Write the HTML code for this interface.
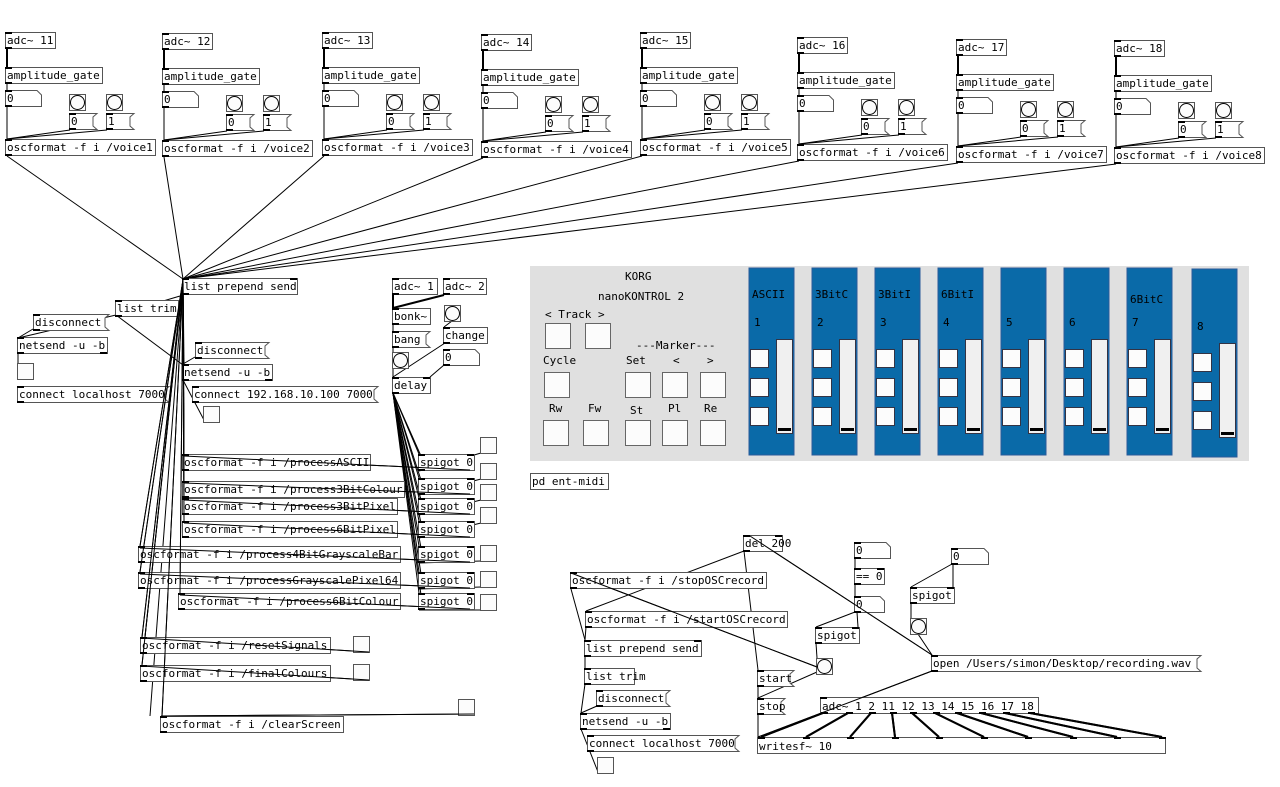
<!DOCTYPE html>
<html><head><meta charset="utf-8"><style>
body{margin:0;background:#fff;width:1280px;height:787px;overflow:hidden}
svg{position:absolute;left:0;top:0}
text{font-family:"DejaVu Sans Mono","Liberation Mono",monospace;font-size:11px;fill:#000}
</style></head><body>
<svg id="s" width="1280" height="787" xmlns="http://www.w3.org/2000/svg"></svg>
<script>
const S=document.getElementById('s');let out='';
function R(x,y,w,h,f,st){out+=`<rect x="${x}" y="${y}" width="${w}" height="${h}" fill="${f||'#fff'}" stroke="${st||'#555'}" stroke-width="1"/>`}
function T(x,y,t,sz,c){out+=`<text x="${x}" y="${y}"${sz?` style="font-size:${sz}px;fill:${c||'#000'}"`:''}>${t}</text>`}
function L(a,b,c,d,w){out+=`<line x1="${a}" y1="${b}" x2="${c}" y2="${d}" stroke="#000" stroke-width="${w||1}"/>`}
function io(x,y,w,h,ni,no){if(ni>0){out+=`<rect x="${x}" y="${y}" width="7" height="2"/>`;if(ni>1)out+=`<rect x="${x+w-7}" y="${y}" width="7" height="2"/>`}
 if(no>0){out+=`<rect x="${x}" y="${y+h-2}" width="7" height="2"/>`;if(no>1)out+=`<rect x="${x+w-7}" y="${y+h-2}" width="7" height="2"/>`}}
function O(x,y,w,t,ni=1,no=1,h=16){R(x+.5,y+.5,w,h);io(x,y,w,h+1,ni,no);T(x+2,y+12,t)}
function M(x,y,w,t,h=16){out+=`<path d="M${x+.5} ${y+.5}H${x+w+4}L${x+w} ${y+4}V${y+h-3}L${x+w+4} ${y+h+.5}H${x+.5}Z" fill="#fff" stroke="#555"/>`;io(x,y,w,h+1,1,1);T(x+2,y+12,t)}
function N(x,y,w,t,h=16){out+=`<path d="M${x+.5} ${y+.5}H${x+w-4}L${x+w+.5} ${y+5}V${y+h+.5}H${x+.5}Z" fill="#fff" stroke="#555"/>`;io(x,y,w,h+1,1,1);T(x+2,y+12,t)}
function TG(x,y,s=16){R(x+.5,y+.5,s,s,'#fcfcfc')}
function B(x,y,s=16){R(x+.5,y+.5,s,s,'#fcfcfc');out+=`<circle cx="${x+s/2+.5}" cy="${y+s/2+.5}" r="${s/2-1}" fill="#fcfcfc" stroke="#000"/>`}
const V=[[5,32],[162,33],[322,32],[481,34],[640,32],[797,37],[956,39],[1114,40]];
V.forEach((v,i)=>{const[X,Y]=v;L(X+2,Y+17,X+2,Y+35,2);L(X+2,Y+52,X+2,Y+58);L(X+2,Y+74,X+2,Y+107);
L(X+65,Y+98,X+2,Y+107);L(X+102,Y+98,X+2,Y+107);L(X+2,Y+124,183,279)});
[[183,454],[183,481],[183,498],[183,521],[139,546],[139,572],[179,593],[141,637],[141,665],[161,716],[183,364]].forEach(p=>L(183,280,p[0]+1,p[1]));
L(183,282,150,716);L(183,282,145,637);
L(180,296,116,315);L(116,315,183,365);L(116,315,18,338);L(33,329,18,338);L(18,354,18,363);L(195,357,183,364);L(183,380,204,420);
L(393,294,393,308,2);L(444,295,393,308,2);L(393,324,393,331);L(393,347,393,352);L(393,368,393,377);L(445,343,393,377);L(444,365,430,377);L(452,321,444,327);
const SP=[454,478,498,521,546,572,593],TGy=[437,463,484,507,545,571,594],OS=[[183,454],[183,481],[183,498],[183,521],[139,546],[139,572],[179,593]];
SP.forEach((y,i)=>{L(393,393,419,y);L(393,393,421,y+2);L(OS[i][0]+1,OS[i][1]+2,470,y+16);L(419,y+17,481,TGy[i]+16)});
L(141,638,369,652);L(141,666,369,680);L(161,716,474,714);
L(744,551,586,611);L(744,551,758,670);L(750,536,932,655);L(571,573,817,667);L(817,672,758,698);
L(571,589,585,640);L(586,627,585,640);L(585,656,585,668);L(585,684,581,713);L(597,706,581,713);L(581,729,598,772);
L(855,558,855,568);L(855,584,855,596);L(855,612,816,627);L(857,612,858,627);L(816,643,817,658);L(952,564,911,587);L(953,564,953,587);L(911,603,911,618);L(918,634,932,655);
L(932,671,758,737);L(758,714,758,737);L(758,686,758,698);
const ao=[821,846,869,890,910,933,955,979,1003,1028],wi=[758,803,847,892,936,981,1025,1070,1114,1159];
ao.forEach((x,i)=>L(x+2,713,wi[i]+3,737,2));
V.forEach((v,i)=>{const[X,Y]=v;O(X,Y,50,'adc~ '+(11+i),1,1);O(X,Y+35,97,'amplitude_gate',1,1);N(X,Y+58,36,'0');
B(X+64,Y+62);B(X+101,Y+62);M(X+64,Y+81,24,'0');M(X+101,Y+81,24,'1');O(X,Y+107,150,'oscformat -f i /voice'+(i+1),1,1)});
O(182,278,115,'list prepend send',2,1);O(115,300,63,'list trim',1,1);M(33,314,72,'disconnect');O(17,337,90,'netsend -u -b',1,2);TG(17,363);M(17,386,148,'connect localhost 7000');
M(195,342,70,'disconnect');O(182,364,90,'netsend -u -b',1,2);M(192,386,182,'connect 192.168.10.100 7000');TG(203,406);
O(392,278,45,'adc~ 1');O(443,278,43,'adc~ 2');O(392,308,38,'bonk~');M(392,331,34,'bang');B(392,352);O(392,377,38,'delay',2,1);B(444,305);O(443,327,44,'change');N(443,349,36,'0');
SP.forEach(y=>O(418,y,56,'spigot 0',2,1));TGy.forEach(y=>TG(480,y));
O(182,454,188,'oscformat -f i /processASCII');O(182,481,222,'oscformat -f i /process3BitColour');O(182,498,215,'oscformat -f i /process3BitPixel');
O(182,521,215,'oscformat -f i /process6BitPixel');O(138,546,262,'oscformat -f i /process4BitGrayscaleBar');O(138,572,262,'oscformat -f i /processGrayscalePixel64');
O(178,593,222,'oscformat -f i /process6BitColour');O(140,637,190,'oscformat -f i /resetSignals');O(140,665,190,'oscformat -f i /finalColours');O(160,716,183,'oscformat -f i /clearScreen');
TG(353,636);TG(353,664);TG(458,699);
[[183,454],[183,481],[183,498],[183,521],[139,546],[139,572],[179,593],[141,637],[141,665],[161,716]].forEach(p=>L(183,280,p[0]+1,p[1]));
OS.forEach((o,i)=>L(o[0]+1,o[1]+2,470,SP[i]+16));L(141,638,369,652);L(141,666,369,680);L(161,716,474,714);
out+=`<rect x="530" y="266" width="719" height="195" fill="#e0e0e0"/>`;
T(625,280,'KORG');T(598,300,'nanoKONTROL 2');T(545,318,'&lt; Track &gt;');T(543,364,'Cycle');T(636,349,'---Marker---');T(626,364,'Set');T(673,364,'&lt;');T(707,364,'&gt;');
T(549,412,'Rw');T(588,412,'Fw');T(630,414,'St');T(668,412,'Pl');T(704,412,'Re');
[[545,323],[585,323],[544,372],[625,372],[662,372],[700,372],[543,420],[583,420],[625,420],[662,420],[700,420]].forEach(p=>R(p[0]+.5,p[1]+.5,25,25,'#fcfcfc','#666'));
const lab=['ASCII','3BitC','3BitI','6BitI','','','6BitC',''];
[749,812,875,938,1001,1064,1127,1192].forEach((x,i)=>{const d=i==7?4:0,y0=i==7?269:268;out+=`<rect x="${x}" y="${y0}" width="45" height="${i==7?188:187}" fill="#0a6aa8" stroke="#2a5a9a"/>`;
 T(x+3,298+(i==6?5:0),lab[i],11,'#000');T(x+5,326+d,String(i+1),11,'#000');
 [349,378,407].forEach(y=>R(x+1.5,y+d+.5,18,18,'#fcfcfc','#334'));R(x+27.5,339.5+d,16,94,'#f0f0f0','#334');out+=`<rect x="${x+29}" y="${428+d}" width="13" height="3" fill="#000"/>`});
O(530,473,78,'pd ent-midi',0,0);
O(743,535,39,'del 200',2,1);N(854,542,36,'0');O(854,568,30,'== 0',2,1);N(854,596,30,'0');O(815,627,44,'spigot',2,1);B(816,658);
N(951,548,37,'0');O(910,587,44,'spigot',2,1);B(910,618);M(931,655,266,'open /Users/simon/Desktop/recording.wav');
O(570,572,196,'oscformat -f i /stopOSCrecord');O(585,611,202,'oscformat -f i /startOSCrecord');O(584,640,117,'list prepend send',2,1);O(584,668,50,'list trim');
M(596,690,70,'disconnect');O(580,713,90,'netsend -u -b',1,2);M(587,735,148,'connect localhost 7000');TG(597,757);
M(757,670,33,'start');M(757,698,24,'stop');
R(820.5,697.5,218,16);out+=`<rect x="820" y="697" width="7" height="2"/>`;ao.forEach(x=>out+=`<rect x="${x}" y="712" width="7" height="2"/>`);T(822,710,'adc~ 1 2 11 12 13 14 15 16 17 18');
R(757.5,737.5,408,16);wi.forEach(x=>out+=`<rect x="${x}" y="737" width="7" height="2"/>`);T(759,750,'writesf~ 10');
ao.forEach((x,i)=>L(x+2,713,wi[i]+3,737,2));L(932,671,758,737);L(750,536,932,655);L(571,573,817,667);
S.innerHTML=out;
</script>
</body></html>
